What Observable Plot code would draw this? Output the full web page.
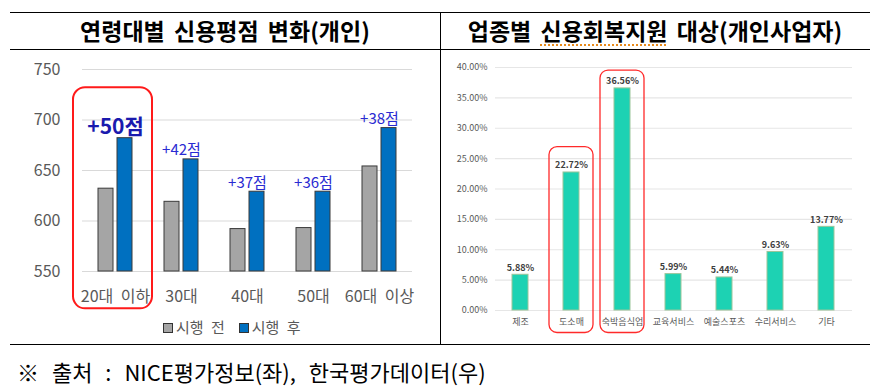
<!DOCTYPE html>
<html><head><meta charset="utf-8">
<script src="https://cdn.jsdelivr.net/npm/d3@7"></script>
<script src="https://cdn.jsdelivr.net/npm/@observablehq/plot@0.6"></script>
<style>
  html,body{margin:0;padding:0;background:#fff;}
  body{width:883px;height:389px;position:relative;overflow:hidden;font-family:"Noto Sans CJK KR","Noto Sans",sans-serif;}
  .hline{position:absolute;left:10px;width:860px;height:0;border-top:1.5px solid #000;}
  .vline{position:absolute;left:440px;top:12px;height:332px;width:0;border-left:1.5px solid #000;}
  .title{position:absolute;top:12px;height:37px;line-height:37px;text-align:center;font-weight:bold;font-size:23px;word-spacing:4px;color:#000;}
  .chart{position:absolute;}
  .legend{position:absolute;top:316px;left:163px;display:flex;gap:14px;font-size:15px;color:#595959;white-space:nowrap;}
  .legend span.sw{display:inline-block;width:8px;height:8px;border:1px solid #333;margin-right:3px;vertical-align:middle;position:relative;top:-1px;}
  .caption{position:absolute;left:17px;top:356px;font-size:22px;word-spacing:8px;line-height:30px;color:#000;white-space:nowrap;}
  .spell{text-decoration-line:underline;text-decoration-style:dotted;text-decoration-color:#e88a1a;text-decoration-thickness:1.5px;text-underline-offset:4px;}
</style>
</head><body>
<div class="hline" style="top:12px"></div>
<div class="hline" style="top:49px"></div>
<div class="hline" style="top:344px"></div>
<div class="vline"></div>
<div class="title" style="left:10px;width:430px">연령대별 신용평점 변화(개인)</div>
<div class="title" style="left:440px;width:430px">업종별 <span class="spell">신용회복지원</span> 대상(개인사업자)</div>
<div id="left" class="chart" style="left:0;top:49px"></div>
<div id="right" class="chart" style="left:441px;top:49px"></div>
<div class="legend" id="legend"></div>
<div class="caption">※ 출처 : NICE평가정보(좌), 한국평가데이터(우)</div>
<script>
// ---- Left chart data ----
const ageGroups = ["20대 이하", "30대", "40대", "50대", "60대 이상"];
const seriesNames = ["시행 전", "시행 후"];
const scoreBefore = [632, 619, 592, 593, 654];
const scoreAfter = [682, 661, 629, 629, 692];
const gainLabels = ["+50점", "+42점", "+37점", "+36점", "+38점"];
const scoreTicks = [550, 600, 650, 700, 750];

// ---- Right chart data ----
const industries = ["제조", "도소매", "숙박음식업", "교육서비스", "예술스포츠", "수리서비스", "기타"];
const sharePct = [5.88, 22.72, 36.56, 5.99, 5.44, 9.63, 13.77];
const shareTicks = [0, 5, 10, 15, 20, 25, 30, 35, 40];
const highlighted = ["도소매", "숙박음식업"];

const font = '"Noto Sans CJK KR","Noto Sans",sans-serif';
const seriesColors = ["#a5a5a5", "#0070c0"];

const scoreRows = [];
ageGroups.forEach((g, i) => {
  scoreRows.push({group: g, series: seriesNames[0], value: scoreBefore[i]});
  scoreRows.push({group: g, series: seriesNames[1], value: scoreAfter[i]});
});
const gainRows = ageGroups.map((g, i) => ({group: g, value: scoreAfter[i], label: gainLabels[i]}));

const left = Plot.plot({
  width: 440, height: 295,
  marginLeft: 80, marginRight: 27, marginTop: 20, marginBottom: 73,
  style: {fontFamily: font, fontSize: "16px", background: "transparent", overflow: "visible"},
  fx: {domain: ageGroups, padding: 0, label: null, tickSize: 0, tickPadding: 19},
  x: {domain: seriesNames, paddingInner: 0.225, paddingOuter: 0.78, axis: null},
  y: {domain: [550, 750], ticks: scoreTicks, label: null, tickSize: 0, tickPadding: 22},
  color: {domain: seriesNames, range: seriesColors},
  marks: [
    Plot.gridY(scoreTicks, {stroke: "#d9d9d9", strokeOpacity: 1, strokeWidth: 1}),
    Plot.barY(scoreRows, {fx: "group", x: "series", y1: 550, y2: "value", fill: "series", stroke: "#3a3a3a", strokeWidth: 1}),
    Plot.text(gainRows.slice(1), {fx: "group", y: "value", text: "label", lineAnchor: "bottom", dy: -4, fontSize: 15, fill: "#2a2ad2"}),
    Plot.text(gainRows.slice(0, 1), {fx: "group", y: "value", text: "label", lineAnchor: "bottom", dy: -4, fontSize: 21, fontWeight: "bold", fill: "#1a1aae"}),
    Plot.barY(ageGroups.slice(0, 1), {fx: d => d, y1: 513, y2: 732, fill: "none", stroke: "#ff1a1a", strokeWidth: 2, rx: 12, insetLeft: -9, insetRight: -4})
  ]
});
left.querySelectorAll('g[aria-label="y-axis tick label"] text, g[aria-label="fx-axis tick label"] text, g[aria-label="y-axis"] text, g[aria-label="fx-axis"] text').forEach(t => t.setAttribute("fill", "#595959"));
left.querySelectorAll('g[aria-label="fx-axis tick label"] text, g[aria-label="fx-axis"] text').forEach(t => t.setAttribute("word-spacing", "4px"));
document.getElementById("left").appendChild(left);

// legend
const lg = document.getElementById("legend");
seriesNames.forEach((s, i) => {
  const item = document.createElement("div");
  const sw = document.createElement("span");
  sw.className = "sw"; sw.style.background = seriesColors[i];
  item.appendChild(sw);
  item.appendChild(document.createTextNode(s.replace(" ", "\u00a0")));
  item.style.wordSpacing = "4px";
  lg.appendChild(item);
});

const shareRows = industries.map((c, i) => ({cat: c, value: sharePct[i]}));
const boxTop = {"도소매": 26.9, "숙박음식업": 39.5};
const right = Plot.plot({
  width: 429, height: 295,
  marginLeft: 54, marginRight: 18, marginTop: 18, marginBottom: 34,
  style: {fontFamily: font, fontSize: "9px", background: "transparent", overflow: "visible"},
  x: {domain: industries, paddingInner: 0.686, paddingOuter: 0.343, label: null, tickSize: 0, tickPadding: 8},
  y: {domain: [0, 40], ticks: shareTicks, label: null, tickSize: 0, tickPadding: 8, tickFormat: d => d.toFixed(2) + "%"},
  marks: [
    Plot.gridY(shareTicks, {stroke: "#e6e6e6", strokeOpacity: 1, strokeWidth: 1.2}),
    Plot.barY(shareRows, {x: "cat", y: "value", fill: "#1dd2b3", stroke: "#9cc59a", strokeWidth: 1}),
    Plot.text(shareRows, {x: "cat", y: "value", text: d => d.value.toFixed(2) + "%", lineAnchor: "bottom", dy: -4, fontSize: 9, fontWeight: 600, fill: "#404040"}),
    Plot.rect(highlighted, {x: d => d, y1: -3.7, y2: d => boxTop[d], fill: "none", stroke: "#ff2a2a", strokeWidth: 1.3, rx: 8, insetLeft: -14, insetRight: -14})
  ]
});
right.querySelectorAll('g[aria-label="y-axis tick label"] text, g[aria-label="x-axis tick label"] text, g[aria-label="y-axis"] text, g[aria-label="x-axis"] text').forEach(t => t.setAttribute("fill", "#595959"));
document.getElementById("right").appendChild(right);
</script>
</body></html>
